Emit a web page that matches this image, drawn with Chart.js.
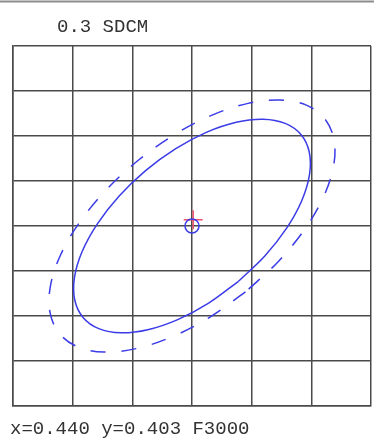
<!DOCTYPE html>
<html>
<head>
<meta charset="utf-8">
<script src="https://cdn.jsdelivr.net/npm/chart.js@4/dist/chart.umd.min.js"></script>
<style>
  html, body { margin: 0; padding: 0; background: #fff; }
  #wrap { width: 374px; height: 447px; position: relative; }
</style>
</head>
<body>
<div id="wrap"><canvas id="c" width="374" height="447"></canvas></div>
<script>
// ---- Data ----
const titleText = "0.3 SDCM";
const footerText = "x=0.440 y=0.403 F3000";

const xRange = [0.437, 0.443];
const yRange = [0.399, 0.407];
const gridStep = 0.001;

const centerPoint = { x: 0.440, y: 0.403 };
const crossPoint = { x: 0.44002, y: 0.40314 };

// inner (solid) ellipse outline, traced clockwise
const solidX = [0.440778, 0.440279, 0.439761, 0.439259, 0.438808, 0.438438, 0.438174, 0.438035, 0.438030,
  0.438159, 0.438414, 0.438776, 0.439222, 0.439721, 0.440239, 0.440741, 0.441192, 0.441562, 0.441826,
  0.441965, 0.441970, 0.441841, 0.441586, 0.441224, 0.440778];
const solidY = [0.401771, 0.401287, 0.400920, 0.400695, 0.400626, 0.400720, 0.400969, 0.401356, 0.401855,
  0.402433, 0.403049, 0.403662, 0.404229, 0.404713, 0.405080, 0.405305, 0.405374, 0.405280, 0.405031,
  0.404644, 0.404145, 0.403567, 0.402951, 0.402339, 0.401771];

// outer (dashed) ellipse outline, traced clockwise
const dashX = [0.440896, 0.440290, 0.439664, 0.439061, 0.438523, 0.438084, 0.437777, 0.437621, 0.437627,
  0.437795, 0.438113, 0.438560, 0.439105, 0.439710, 0.440336, 0.440939, 0.441478, 0.441916, 0.442223,
  0.442379, 0.442373, 0.442205, 0.441887, 0.441440, 0.440896];
const dashY = [0.401534, 0.400966, 0.400537, 0.400275, 0.400200, 0.400315, 0.400613, 0.401074, 0.401666,
  0.402349, 0.403076, 0.403798, 0.404466, 0.405034, 0.405463, 0.405725, 0.405800, 0.405685, 0.405387,
  0.404926, 0.404334, 0.403651, 0.402924, 0.402202, 0.401534];

// ---- Build chart ----
const toPts = (xs, ys) => xs.map((x, i) => ({ x: x, y: ys[i] }));
const BLUE = '#3b3be8';
const GRID = '#4a4a4a';
const TEXT_FONT = '19px "Liberation Mono", "DejaVu Sans Mono", monospace';

const textPlugin = {
  id: 'texts',
  beforeDraw(chart) {
    const ctx = chart.ctx;
    ctx.save();
    ctx.fillStyle = '#fff';
    ctx.fillRect(0, 0, chart.width, chart.height);
    ctx.strokeStyle = '#8c8c8c';
    ctx.lineWidth = 2;
    ctx.beginPath();
    ctx.moveTo(0, 1.5);
    ctx.lineTo(374, 1.5);
    ctx.stroke();
    ctx.restore();
  },
  afterDraw(chart) {
    const ctx = chart.ctx;
    ctx.save();
    ctx.font = TEXT_FONT;
    ctx.fillStyle = '#333';
    ctx.textBaseline = 'alphabetic';
    ctx.textAlign = 'left';
    ctx.fillText(titleText, 57, 32);
    ctx.fillText(footerText, 10, 434);
    ctx.restore();
  }
};

new Chart(document.getElementById('c'), {
  type: 'scatter',
  data: {
    datasets: [
      {
        label: 'center',
        data: [centerPoint],
        pointStyle: 'circle',
        pointRadius: 7,
        pointBorderColor: BLUE,
        pointBackgroundColor: 'rgba(0,0,0,0)',
        pointBorderWidth: 1.5,
        order: 0
      },
      {
        label: 'cross',
        data: [crossPoint],
        pointStyle: 'cross',
        pointRadius: 9.5,
        pointBorderColor: '#f2506c',
        pointBorderWidth: 1.5,
        order: 1
      },
      {
        label: 'solid',
        data: toPts(solidX, solidY),
        showLine: true,
        borderColor: BLUE,
        borderWidth: 1.5,
        pointRadius: 0,
        tension: 0.35,
        fill: false,
        order: 2
      },
      {
        label: 'dashed',
        data: toPts(dashX, dashY),
        showLine: true,
        borderColor: BLUE,
        borderWidth: 1.5,
        borderDash: [15, 16],
        pointRadius: 0,
        tension: 0.35,
        fill: false,
        order: 3
      }
    ]
  },
  options: {
    responsive: false,
    animation: false,
    layout: { autoPadding: false, padding: { left: 13, right: 3, top: 46, bottom: 41 } },
    plugins: {
      legend: { display: false },
      tooltip: { enabled: false },
      title: { display: false }
    },
    scales: {
      x: {
        type: 'linear',
        min: xRange[0], max: xRange[1],
        ticks: { display: false, stepSize: gridStep },
        grid: { color: GRID, lineWidth: 1.5, drawTicks: false },
        border: { color: GRID, width: 1.5 }
      },
      y: {
        type: 'linear',
        min: yRange[0], max: yRange[1],
        ticks: { display: false, stepSize: gridStep },
        grid: { color: GRID, lineWidth: 1.5, drawTicks: false },
        border: { color: GRID, width: 1.5 }
      }
    }
  },
  plugins: [textPlugin]
});
</script>
</body>
</html>
